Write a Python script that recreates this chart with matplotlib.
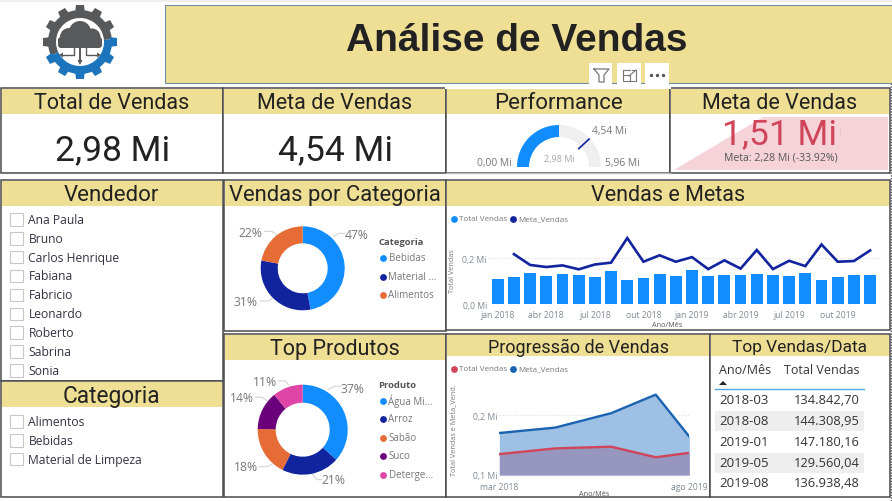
import matplotlib
matplotlib.use("Agg")
import matplotlib.pyplot as plt
import numpy as np
import pandas as pd
from matplotlib.patches import Circle, Polygon, Rectangle, Wedge, FancyBboxPatch

W, H = 892, 502
BAND = "#EFDF94"
LINE = "#4A4A4A"
HEAD_FONT = "Roboto"
BODY_FONT = "Open Sans"
BLUE = "#118DFF"
NAVY = "#12239E"
ORANGE = "#E66C37"
PURPLE = "#6B007B"
PINK = "#E044A7"
RED = "#D0455A"
GREY_TXT = "#777777"
TICK_TXT = "#7F8A94"

months = pd.period_range("2018-01", "2019-12", freq="M")
month_names = ["jan", "fev", "mar", "abr", "mai", "jun", "jul", "ago", "set", "out", "nov", "dez"]
total_vendas = [0.109, 0.119, 0.1348, 0.123, 0.129, 0.126, 0.119, 0.1443, 0.104, 0.114, 0.129, 0.122,
                0.1472, 0.122, 0.127, 0.126, 0.1296, 0.126, 0.120, 0.1369, 0.106, 0.119, 0.125, 0.125]
meta_vendas = [np.nan, 0.217, 0.170, 0.161, 0.168, 0.151, 0.172, 0.180, 0.287, 0.184, 0.212, 0.184,
               0.204, 0.152, 0.190, 0.154, 0.235, 0.152, 0.188, 0.165, 0.259, 0.184, 0.187, 0.233]

top_meses = ["2018-03", "2018-08", "2019-01", "2019-05", "2019-08"]
top_total = [0.1348, 0.1443, 0.1472, 0.1296, 0.1369]
top_meta = [0.170, 0.179, 0.203, 0.234, 0.164]
top_labels = ["134.842,70", "144.308,95", "147.180,16", "129.560,04", "136.938,48"]

categorias = ["Bebidas", "Material ...", "Alimentos"]
categorias_pct = [47, 31, 22]
produtos = ["Água Mi...", "Arroz", "Sabão", "Suco", "Deterge..."]
produtos_pct = [37, 21, 18, 14, 11]
vendedores = ["Ana Paula", "Bruno", "Carlos Henrique", "Fabiana", "Fabricio", "Leonardo", "Roberto", "Sabrina", "Sonia"]
categorias_filtro = ["Alimentos", "Bebidas", "Material de Limpeza"]

gauge_valor = 2.98
gauge_meta = 4.54
gauge_max = 5.96

fig = plt.figure(figsize=(W / 100, H / 100), dpi=100)
fig.patch.set_facecolor("white")


def ax_px(x0, y0, x1, y1, z=2):
    ax = fig.add_axes([x0 / W, 1 - y1 / H, (x1 - x0) / W, (y1 - y0) / H], zorder=z)
    ax.patch.set_alpha(0)
    return ax


bg = ax_px(0, 0, W, H, z=0)
bg.set_xlim(0, W)
bg.set_ylim(H, 0)
bg.axis("off")


def txt(x, y, s, size=8, color="#333333", ha="left", font=BODY_FONT, **kw):
    bg.text(x, y, s, fontsize=size, color=color, ha=ha, va="center", family=font, **kw)


def panel(x0, y0, x1, y1, title, head_h=25, size=15.5):
    bg.add_patch(Rectangle((x0, y0), x1 - x0, y1 - y0, fc="white", ec=LINE, lw=1.1, zorder=1))
    bg.add_patch(Rectangle((x0 + 1, y0 + 1), x1 - x0 - 2, head_h, fc=BAND, ec="none", zorder=1.1))
    bg.text((x0 + x1) / 2, y0 + head_h / 2 + 2.5, title, fontsize=size, color="#222222", ha="center",
            va="center", family=HEAD_FONT, zorder=3)


# faixa do topo e titulo
bg.add_patch(Rectangle((0, 0), W, 3, fc="#EFEFEF", ec="none"))
bg.add_patch(Rectangle((164.5, 5.5), 728, 78, fc=BAND, ec="#6E8FA0", lw=0.8))
txt(517, 41, "Análise de Vendas", size=28, color="#222222", ha="center", font="Liberation Sans", weight="bold", zorder=3)

# logo
logo = ax_px(40, 3, 120, 83)
logo.set_xlim(-40, 40)
logo.set_ylim(-40, 40)
logo.axis("off")
GEAR = "#58595B"
LOGO_BLUE = "#1C75BC"
logo.add_patch(Wedge((0, 0), 32, 5, 205, width=8, fc=GEAR, ec="none"))
logo.add_patch(Wedge((0, 0), 32, 205, 365, width=8, fc=LOGO_BLUE, ec="none"))
for ang in range(0, 360, 30):
    a = np.radians(ang)
    c = GEAR if 5 < ang < 205 else LOGO_BLUE
    d = np.array([np.cos(a), np.sin(a)])
    n = np.array([-d[1], d[0]])
    pts = [d * 30 + n * 4.8, d * 37 + n * 4, d * 37 - n * 4, d * 30 - n * 4.8]
    logo.add_patch(Polygon(pts, fc=c, ec="none"))
for cx, cy, r in [(-11, 5, 9), (0, 10, 11), (12, 5, 8.5)]:
    logo.add_patch(Circle((cx, cy), r, fc=GEAR, ec="none"))
logo.add_patch(FancyBboxPatch((-19, -3), 38, 5, boxstyle="round,pad=3", fc=GEAR, ec="none"))
logo.plot([-6, -6, -17], [-6, -13, -13], color=GEAR, lw=1)
logo.plot([6, 6, 17], [-6, -13, -13], color=GEAR, lw=1)
logo.plot([0, 0], [-6, -18], color=GEAR, lw=1.4)
logo.add_patch(Polygon([(-2.5, -18), (2.5, -18), (0, -23)], fc=GEAR, ec="none"))
logo.add_patch(Polygon([(-21, -13), (-17, -10.5), (-17, -15.5)], fc=GEAR, ec="none"))
logo.add_patch(Polygon([(21, -13), (17, -10.5), (17, -15.5)], fc=GEAR, ec="none"))

# cartoes
panel(0.5, 88.5, 222.5, 174, "Total de Vendas")
txt(112.5, 151, "2,98 Mi", size=25.5, color="#222222", ha="center", font=HEAD_FONT, zorder=3)
panel(222.5, 88.5, 446, 174, "Meta de Vendas")
txt(336, 151, "4,54 Mi", size=25.5, color="#222222", ha="center", font=HEAD_FONT, zorder=3)
panel(446, 88.5, 670, 174, "Performance", size=16)
panel(670, 88.5, 890, 174, "Meta de Vendas")
bg.plot([446, 670], [88.5, 88.5], color="white", lw=1.5, zorder=2)
bg.plot([446, 670], [173.5, 173.5], color="#BBBBBB", lw=1, zorder=2)

# icones do foco
for x0, x1 in [(589, 612), (617, 641), (645, 669)]:
    bg.add_patch(Rectangle((x0, 64), x1 - x0, 24, fc="white", ec="none", zorder=4))
bg.plot([594, 609, 604, 604, 599, 599, 594], [70, 70, 76, 83, 83, 76, 70], color="#777777", lw=0.9, zorder=5)
bg.add_patch(Rectangle((623, 76), 7, 6, fc="none", ec="#777777", lw=0.8, zorder=5))
bg.plot([623, 623, 630], [76, 71, 71], color="#777777", lw=0.8, zorder=5)
bg.plot([636, 636, 630], [76, 82, 82], color="#777777", lw=0.8, zorder=5)
bg.plot([629, 636], [77, 71], color="#777777", lw=0.8, zorder=5)
bg.plot([632, 636, 636], [71, 71, 75], color="#777777", lw=0.8, zorder=5)
bg.scatter([651, 657, 663], [75.5, 75.5, 75.5], s=2, color="#555555", zorder=5)

# gauge
g = ax_px(509, 118, 609, 168)
g.set_xlim(-50, 50)
g.set_ylim(0, 50)
g.axis("off")
g.add_patch(Wedge((0, 0), 42, 0, 180, width=12, fc="#EFEFEF", ec="none"))
g.add_patch(Wedge((0, 0), 42, 180 - gauge_valor / gauge_max * 180, 180, width=12, fc=BLUE, ec="none"))
ang = np.radians(180 - gauge_meta / gauge_max * 180)
g.plot([27 * np.cos(ang), 41 * np.cos(ang)], [27 * np.sin(ang), 41 * np.sin(ang)], color=NAVY, lw=1.2)
txt(559, 160, "2,98 Mi", size=6.5, color="#A5A5A5", ha="center")
txt(512, 164, "0,00 Mi", size=7.4, color=GREY_TXT, ha="right")
txt(592, 132, "4,54 Mi", size=7.4, color=GREY_TXT)
txt(605, 164, "5,96 Mi", size=7.4, color=GREY_TXT)

# kpi meta
bg.add_patch(Polygon([(674, 171), (763, 118), (888, 118), (888, 171)], fc="#F5D3D9", ec="none", zorder=2))
txt(779, 135, "1,51 Mi", size=25.5, color=RED, ha="center", font=HEAD_FONT, zorder=3)
txt(840, 134, "!", size=7, color="#E8B8C0", ha="center", zorder=3)
txt(781, 158, "Meta: 2,28 Mi (-33.92%)", size=7.6, color="#555555", ha="center", zorder=3)

# filtros
panel(0.5, 181, 222.5, 382, "Vendedor", size=16)
panel(0.5, 382, 222.5, 498, "Categoria", size=16.3)
for i, nome in enumerate(vendedores):
    y = 220.3 + i * 18.9
    bg.add_patch(Rectangle((10, y - 6.3), 12.6, 12.6, fc="white", ec="#C8C8C8", lw=0.8, zorder=3))
    txt(28.5, y, nome, size=8.7, color="#333344", zorder=3)
for i, nome in enumerate(categorias_filtro):
    y = 422.3 + i * 18.9
    bg.add_patch(Rectangle((10, y - 6.3), 12.6, 12.6, fc="white", ec="#C8C8C8", lw=0.8, zorder=3))
    txt(28.5, y, nome, size=8.7, color="#333344", zorder=3)


# rosca com rotulos e legenda
def donut(cx, cy, r, hole, vals, cols, legend_title, names, legend_ys, title_y, labels):
    ax = ax_px(cx - r, cy - r, cx + r, cy + r)
    ax.pie(vals, colors=cols, radius=1, startangle=90, counterclock=False,
           wedgeprops=dict(width=1 - hole / r, edgecolor="none"))
    ax.set_xlim(-1, 1)
    ax.set_ylim(-1, 1)
    for (lx, ly), line, v in labels:
        txt(lx, ly, "%d%%" % v, size=8.7, color=GREY_TXT, ha="center", zorder=3)
        bg.plot([p[0] for p in line], [p[1] for p in line], color="#D4D4D4", lw=0.8, zorder=2)
    txt(378.5, title_y, legend_title, size=6.8, color="#555555", weight="bold", zorder=3)
    for name, col, y in zip(names, cols, legend_ys):
        bg.scatter([382.5], [y], s=24, color=col, zorder=3, linewidths=0)
        txt(388.5, y, name, size=7, color=GREY_TXT, zorder=3)


panel(224, 181, 446, 332, "Vendas por Categoria", size=15.8)
panel(224, 335, 446, 498, "Top Produtos")


def pz(x, y):
    # zoom da coluna central para pixels da figura
    return (222 + x / 3, 180 + y / 3)


donut(302.7, 269.3, 42, 25, categorias_pct, [BLUE, NAVY, ORANGE], "Categoria", categorias,
      [258.5, 277.5, 295.5], 242.5,
      [(pz(405, 167), [pz(335, 172), pz(350, 163), pz(368, 163)], 47),
       (pz(70, 368), [pz(115, 366), pz(140, 366), pz(150, 358)], 31),
       (pz(85, 161), [pz(128, 157), pz(150, 157), pz(165, 170)], 22)])
donut(302.7, 430.7, 45, 27, produtos_pct, [BLUE, NAVY, ORANGE, PURPLE, PINK], "Produto", produtos,
      [401.5, 419.5, 438.5, 456.5, 475.5], 385.5,
      [(pz(390, 628), [pz(318, 632), pz(335, 622), pz(355, 622)], 37),
       (pz(335, 903), [pz(270, 885), pz(285, 902), pz(300, 902)], 21),
       (pz(73, 863), [pz(112, 863), pz(135, 863), pz(150, 855)], 18),
       (pz(60, 657), [pz(100, 655), pz(120, 655), pz(135, 665)], 14),
       (pz(128, 608), [pz(168, 606), pz(190, 606), pz(200, 618)], 11)])

# vendas e metas
panel(446, 181, 890, 331, "Vendas e Metas")
idx = np.arange(len(months))
ax = ax_px(489, 220, 879, 305)
ax.bar(idx, total_vendas, width=0.73, color=BLUE)
ax.plot(idx, meta_vendas, color=NAVY, lw=1.9, solid_joinstyle="miter")
ax.set_xlim(-0.54, 23.55)
ax.set_ylim(0, 0.37)
ax.set_yticks([0, 0.2])
ax.set_yticklabels(["0,0 Mi", "0,2 Mi"], fontsize=6.2, color=TICK_TXT, family=BODY_FONT)
ax.set_xticks(idx[::3])
ax.set_xticklabels(["%s %d" % (month_names[m.month - 1], m.year) for m in months[::3]],
                   fontsize=6.2, color=TICK_TXT, family=BODY_FONT)
ax.tick_params(length=0)
ax.tick_params(axis="x", pad=4)
ax.tick_params(axis="y", pad=1.5)
ax.grid(axis="y", color="#DDDDDD", ls=":", lw=0.8)
ax.set_axisbelow(True)
for s in ax.spines.values():
    s.set_visible(False)
txt(453, 271, "Total Vendas", size=5.2, color=GREY_TXT, ha="center", rotation=90, zorder=3)
txt(667, 325.5, "Ano/Mês", size=5.2, color="#555555", ha="center", zorder=3)
bg.scatter([454], [220], s=24, color=BLUE, zorder=3, linewidths=0)
txt(459, 220, "Total Vendas", size=5.8, color=GREY_TXT, zorder=3)
bg.scatter([513], [220], s=24, color=NAVY, zorder=3, linewidths=0)
txt(518, 220, "Meta_Vendas", size=5.8, color=GREY_TXT, zorder=3)

# progressao
panel(446, 335, 710, 498, "Progressão de Vendas", head_h=21, size=13)
panel(710, 335, 890, 498, "Top Vendas/Data", head_h=21, size=12.5)
per = pd.PeriodIndex(top_meses, freq="M")
pos = np.array([(p - per[0]).n for p in per])
ax2 = ax_px(499.3, 385, 689.3, 476)
ax2.fill_between(pos, 0.1, top_meta, color="#9DC0E4", lw=0)
ax2.fill_between(pos, 0.1, top_total, color="#9696BE", lw=0)
ax2.plot(pos, top_meta, color="#1B63B0", lw=1.7)
ax2.plot(pos, top_total, color=RED, lw=1.7)
ax2.set_xlim(pos[0], pos[-1])
ax2.set_ylim(0.1, 0.2517)
ax2.set_yticks([0.1, 0.2])
ax2.set_yticklabels(["0,1 Mi", "0,2 Mi"], fontsize=6.2, color=TICK_TXT, family=BODY_FONT)
ax2.set_xticks([pos[0], pos[-1]])
ax2.set_xticklabels(["mar 2018", "ago 2019"], fontsize=6.2, color=TICK_TXT, family=BODY_FONT)
ax2.tick_params(length=0)
ax2.tick_params(axis="x", pad=5)
ax2.tick_params(axis="y", pad=1.5)
ax2.grid(axis="y", color="#DDDDDD", ls=":", lw=0.8)
ax2.set_axisbelow(True)
for s in ax2.spines.values():
    s.set_visible(False)
txt(453.5, 430, "Total Vendas e Meta_Vend.", size=5.2, color=GREY_TXT, ha="center", rotation=90, zorder=3)
txt(594, 495, "Ano/Mês", size=5.2, color="#555555", ha="center", zorder=3)
bg.scatter([454], [370], s=24, color=RED, zorder=3, linewidths=0)
txt(459, 370, "Total Vendas", size=5.8, color=GREY_TXT, zorder=3)
bg.scatter([513], [370], s=24, color="#1B63B0", zorder=3, linewidths=0)
txt(518, 370, "Meta_Vendas", size=5.8, color=GREY_TXT, zorder=3)

# tabela
txt(719, 371, "Ano/Mês", size=9, color="#333333", zorder=3)
txt(859, 371, "Total Vendas", size=9, color="#333333", ha="right", zorder=3)
bg.add_patch(Polygon([(719, 386), (727, 386), (723, 382)], fc="#222222", ec="none", zorder=3))
bg.plot([715, 864], [389.5, 389.5], color="#4FA5DC", lw=1, zorder=3)
for i, (mes, val) in enumerate(zip(top_meses, top_labels)):
    y = [401, 422, 443, 464, 484][i]
    if i % 2 == 1:
        bg.add_patch(Rectangle((715, y - 10), 149, 20, fc="#EEEEEE", ec="none", zorder=2))
    txt(719, y, mes, size=9.5, color="#333333", zorder=3)
    txt(860, y, val, size=9.3, color="#333333", ha="right", zorder=3)

# borda pontilhada do foco
bg.plot([890.5, 890.5], [84, 502], color="#555555", lw=1, ls=(0, (1, 1)), zorder=6)

fig.savefig("out.png", dpi=100)
